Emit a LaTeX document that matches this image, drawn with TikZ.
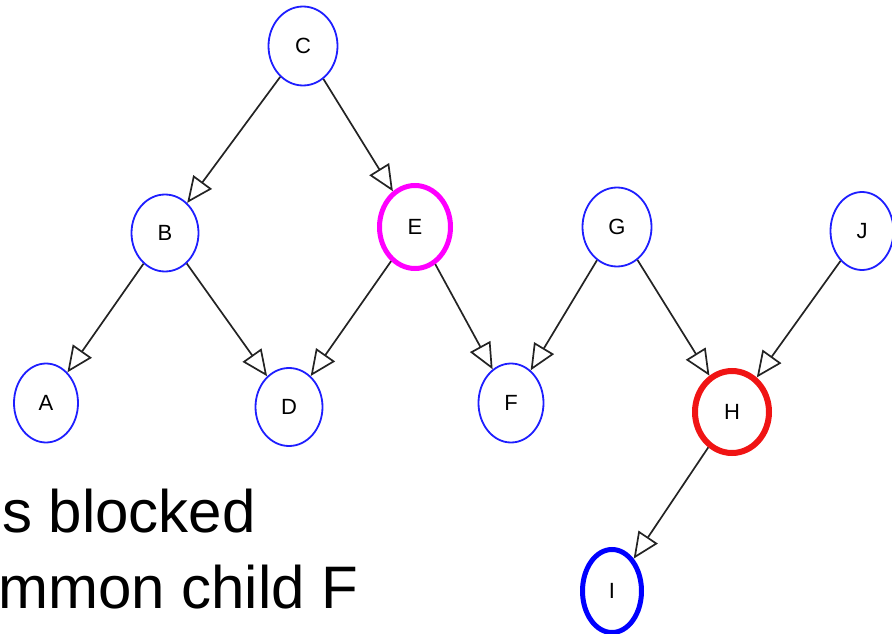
\documentclass[tikz,border=0pt]{standalone}
\usepackage{fontspec}
\setmainfont{Liberation Sans}
\usetikzlibrary{shapes.geometric,arrows.meta}
\definecolor{nodeblue}{RGB}{30,30,255}
\definecolor{evmag}{RGB}{255,0,255}
\definecolor{evred}{RGB}{240,20,20}
\definecolor{edgegray}{RGB}{35,35,35}
\tikzset{
  var/.style={ellipse, draw=nodeblue, line width=1.8pt, inner sep=0pt,
    font=\fontsize{22}{26}\selectfont, text=black},
  obsmag/.style={var, draw=evmag, line width=5pt},
  obsred/.style={var, draw=evred, line width=6pt},
  obsblue/.style={var, draw=blue, line width=5pt},
  link/.style={draw=edgegray, line width=1.7pt,
    -{Triangle[open, length=26pt, width=23pt, line width=1.7pt]}},
  caption/.style={anchor=base west, inner sep=0pt,
    font=\fontsize{60}{76}\selectfont}
}
\begin{document}
\begin{tikzpicture}[x=1pt, y=-1pt]
  \useasboundingbox (0,0) rectangle (892,634);
  \begin{scope}
    \clip (0,0) rectangle (892,634);
    % variables
    \node[var, minimum width=69pt, minimum height=79pt] (C) at (303,46) {C};
    \node[var, minimum width=67pt, minimum height=77pt] (B) at (165,233) {B};
    \node[obsmag, minimum width=71pt, minimum height=83pt] (E) at (415,227) {E};
    \node[var, minimum width=69pt, minimum height=79pt] (G) at (617,227) {G};
    \node[var, minimum width=63pt, minimum height=78pt] (J) at (862,231) {J};
    \node[var, minimum width=64pt, minimum height=79pt] (A) at (46,403) {A};
    \node[var, minimum width=67pt, minimum height=78pt] (D) at (289,407) {D};
    \node[var, minimum width=65pt, minimum height=79pt] (F) at (511,403) {F};
    \node[obsred, minimum width=74pt, minimum height=82pt] (H) at (732,412) {H};
    \node[obsblue, minimum width=59pt, minimum height=83pt] (I) at (612,591) {I};
    % directed edges
    \draw[link] (C) -- (B);
    \draw[link] (C) -- (E);
    \draw[link] (B) -- (A);
    \draw[link] (B) -- (D);
    \draw[link] (E) -- (D);
    \draw[link] (E) -- (F);
    \draw[link] (G) -- (F);
    \draw[link] (G) -- (H);
    \draw[link] (J) -- (H);
    \draw[link] (H) -- (I);
    % caption text
    \node[caption] (t1) at (2,532) {s blocked};
    \node[caption] (t2) at (-2,608) {mmon child F};
  \end{scope}
\end{tikzpicture}
\end{document}
